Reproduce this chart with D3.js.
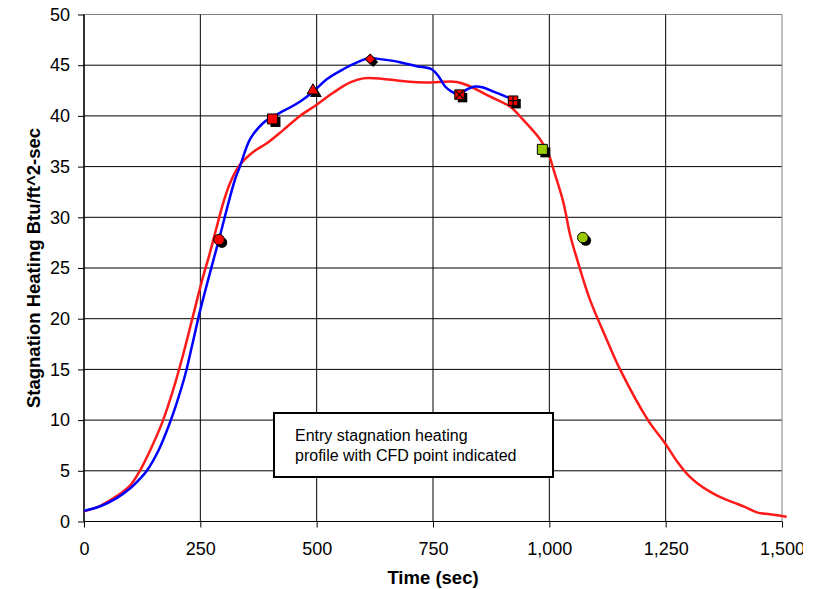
<!DOCTYPE html>
<html lang="en">
    <head>
        <meta charset="utf-8">
        <title>Entry Stagnation Heating</title>
        <script type="text/javascript" src="https://d3js.org/d3.v7.min.js"></script>
        <style type="text/css">
            body {
                margin: 0;
                background: white;
            }
            svg {
                display: block;
                font-family: "Liberation Sans", Arial, sans-serif;
            }
        </style>
    </head>
    <body>
        <script type="text/javascript">

        // blue profile (time sec, heating)
        const blueTime  = [0, 35, 70, 100, 120, 135, 160, 185, 200, 217, 233, 249, 270, 290, 312, 325, 335, 357, 385, 405, 421, 464, 493, 521, 557, 593, 615, 636, 679, 715, 747, 762, 776, 790, 807, 822, 840, 858, 880, 912, 922];
        const blueValue = [1.05, 1.5, 2.3, 3.3, 4.2, 5.0, 7.0, 9.8, 11.8, 14.4, 17.5, 20.7, 24.4, 27.8, 31.7, 33.8, 35.0, 37.7, 39.3, 39.9, 40.3, 41.4, 42.4, 43.6, 44.6, 45.4, 45.7, 45.6, 45.3, 44.9, 44.6, 43.9, 42.9, 42.4, 42.1, 42.6, 42.9, 42.8, 42.4, 41.8, 41.6];

        // red profile
        const redTime  = [0, 35, 70, 100, 120, 145, 170, 195, 215, 235, 255, 270, 301, 316, 332, 345, 365, 393, 428, 464, 500, 536, 572, 600, 643, 693, 737, 801, 830, 873, 916, 944, 980, 998, 1009, 1030, 1045, 1060, 1087, 1120, 1152, 1212, 1249, 1275, 1300, 1320, 1345, 1370, 1395, 1420, 1446, 1474, 1510];
        const redValue = [1.0, 1.55, 2.5, 3.6, 5.0, 7.3, 10.0, 13.5, 16.8, 20.4, 24.0, 26.4, 31.7, 33.6, 35.0, 35.7, 36.5, 37.3, 38.6, 40.0, 41.1, 42.3, 43.3, 43.7, 43.65, 43.4, 43.3, 43.35, 42.9, 41.9, 40.9, 39.6, 37.7, 36.3, 34.7, 31.5, 28.2, 25.8, 21.9, 18.3, 15.0, 10.0, 7.7, 5.9, 4.5, 3.7, 2.95, 2.35, 1.88, 1.45, 0.9, 0.71, 0.47];

        // CFD points
        const cfdTime   = [290, 405, 492, 615, 807, 922, 985, 1072];
        const cfdValue  = [27.8, 39.7, 42.5, 45.6, 42.1, 41.5, 36.7, 28.0];
        const cfdShape  = ["circle", "square", "triangle", "diamond", "squareX", "squarePlus", "square", "circle"];
        const cfdColor  = ["#ff0000", "#ff0000", "#ff0000", "#ff0000", "#ff0000", "#ff0000", "#99cc00", "#99cc00"];

        const xTicks = [0, 250, 500, 750, 1000, 1250, 1500];
        const yTicks = [0, 5, 10, 15, 20, 25, 30, 35, 40, 45, 50];

        const width = 820;
        const height = 589;
        const margin = {top: 14.5, right: 38, bottom: 67.5, left: 84};

        const xScale = d3.scaleLinear()
                        .domain([0, 1500])
                        .range([margin.left, width - margin.right]);

        const yScale = d3.scaleLinear()
                        .domain([0, 50])
                        .range([height - margin.bottom, margin.top]);

        const svg = d3.select("body")
                    .append("svg")
                    .attr("width", width)
                    .attr("height", height);

        svg.append("defs").append("clipPath")
            .attr("id", "pageclip")
            .append("rect")
            .attr("x", 0).attr("y", 0)
            .attr("width", 803).attr("height", height);

        const root = svg.append("g").attr("clip-path", "url(#pageclip)");

        // grid
        root.append("g")
            .selectAll("line")
            .data(yTicks)
            .enter()
            .append("line")
            .attr("x1", xScale(0))
            .attr("x2", xScale(1500))
            .attr("y1", d => yScale(d))
            .attr("y2", d => yScale(d))
            .attr("stroke", d => d == 50 ? "#808080" : "#000")
            .attr("stroke-width", 1);

        root.append("g")
            .selectAll("line")
            .data(xTicks)
            .enter()
            .append("line")
            .attr("x1", d => xScale(d))
            .attr("x2", d => xScale(d))
            .attr("y1", yScale(0))
            .attr("y2", yScale(50))
            .attr("stroke", d => d == 1500 ? "#808080" : "#000")
            .attr("stroke-width", 1);

        // axes
        const leftAxis = d3.axisLeft(yScale)
                        .tickValues(yTicks)
                        .tickSize(6)
                        .tickPadding(8)
                        .tickFormat(d3.format("d"));

        const bottomAxis = d3.axisBottom(xScale)
                        .tickValues(xTicks)
                        .tickSize(6)
                        .tickPadding(15)
                        .tickFormat(d3.format(","));

        const gl = root.append("g")
            .attr("transform", "translate(" + margin.left + ",0)")
            .call(leftAxis);

        const gb = root.append("g")
            .attr("transform", "translate(0," + yScale(0) + ")")
            .call(bottomAxis);

        [gl, gb].forEach(g => {
            g.select(".domain").attr("stroke", "#000").attr("stroke-width", 1.2);
            g.selectAll(".tick line").attr("stroke", "#000");
            g.selectAll(".tick text")
                .attr("fill", "#000")
                .style("font-family", "'Liberation Sans', Arial, sans-serif")
                .style("font-size", "18px");
        });
        gb.select(".domain").attr("d", "M" + xScale(0) + ",0H" + xScale(1500));
        gl.select(".domain").attr("d", "M0," + yScale(50) + "V" + yScale(0));

        // curves
        const line = d3.line()
                    .x(d => xScale(d[0]))
                    .y(d => yScale(d[1]))
                    .curve(d3.curveCatmullRom.alpha(0.5));

        root.append("path")
            .datum(redTime.map((t, i) => [t, redValue[i]]))
            .attr("d", line)
            .attr("fill", "none")
            .attr("stroke", "#ff1a1a")
            .attr("stroke-width", 2.5);

        root.append("path")
            .datum(blueTime.map((t, i) => [t, blueValue[i]]))
            .attr("d", line)
            .attr("fill", "none")
            .attr("stroke", "#0000ff")
            .attr("stroke-width", 2.5);

        // markers
        const shapePath = {
            circle: d3.symbol().type(d3.symbolCircle).size(88)(),
            square: d3.symbol().type(d3.symbolSquare).size(100)(),
            squareX: d3.symbol().type(d3.symbolSquare).size(90)(),
            squarePlus: d3.symbol().type(d3.symbolSquare).size(90)(),
            triangle: d3.symbol().type(d3.symbolTriangle).size(60)(),
            diamond: d3.symbol().type(d3.symbolSquare).size(50)()
        };

        const cfd = cfdTime.map((t, i) => ({t: t, v: cfdValue[i], shape: cfdShape[i], color: cfdColor[i]}));

        const marks = root.append("g")
            .selectAll("g")
            .data(cfd)
            .enter()
            .append("g")
            .attr("transform", d => "translate(" + xScale(d.t) + "," + yScale(d.v) + ")");

        // shadow
        marks.append("path")
            .attr("d", d => shapePath[d.shape])
            .attr("transform", d => "translate(3,3)" + (d.shape == "diamond" ? " rotate(45)" : ""))
            .attr("fill", "#000");

        marks.append("path")
            .attr("d", d => shapePath[d.shape])
            .attr("transform", d => d.shape == "diamond" ? "rotate(45)" : null)
            .attr("fill", d => d.color)
            .attr("stroke", "#000")
            .attr("stroke-width", 1);

        marks.filter(d => d.shape == "squareX")
            .append("path")
            .attr("d", "M-4,-4L4,4M-4,4L4,-4")
            .attr("stroke", "#000")
            .attr("stroke-width", 1.2);

        marks.filter(d => d.shape == "squarePlus")
            .append("path")
            .attr("d", "M-4.5,0H4.5M0,-4.5V4.5")
            .attr("stroke", "#000")
            .attr("stroke-width", 1.2);

        // note box
        root.append("rect")
            .attr("x", 274)
            .attr("y", 413)
            .attr("width", 279)
            .attr("height", 64)
            .attr("fill", "white")
            .attr("stroke", "#000")
            .attr("stroke-width", 2);

        const note = root.append("text")
            .attr("fill", "#000")
            .style("font-size", "16px");
        note.append("tspan").attr("x", 295).attr("y", 441).text("Entry stagnation heating");
        note.append("tspan").attr("x", 295).attr("y", 461).text("profile with CFD point indicated");

        // axis titles
        root.append("text")
            .attr("x", (xScale(0) + xScale(1500)) / 2)
            .attr("y", 584)
            .attr("text-anchor", "middle")
            .style("font-weight", "bold")
            .style("font-size", "18.5px")
            .text("Time (sec)");

        root.append("text")
            .attr("transform", "translate(40," + (yScale(0) + yScale(50)) / 2 + ") rotate(-90)")
            .attr("text-anchor", "middle")
            .style("font-weight", "bold")
            .style("font-size", "18.5px")
            .text("Stagnation Heating Btu/ft^2-sec");

        </script>
    </body>
</html>
